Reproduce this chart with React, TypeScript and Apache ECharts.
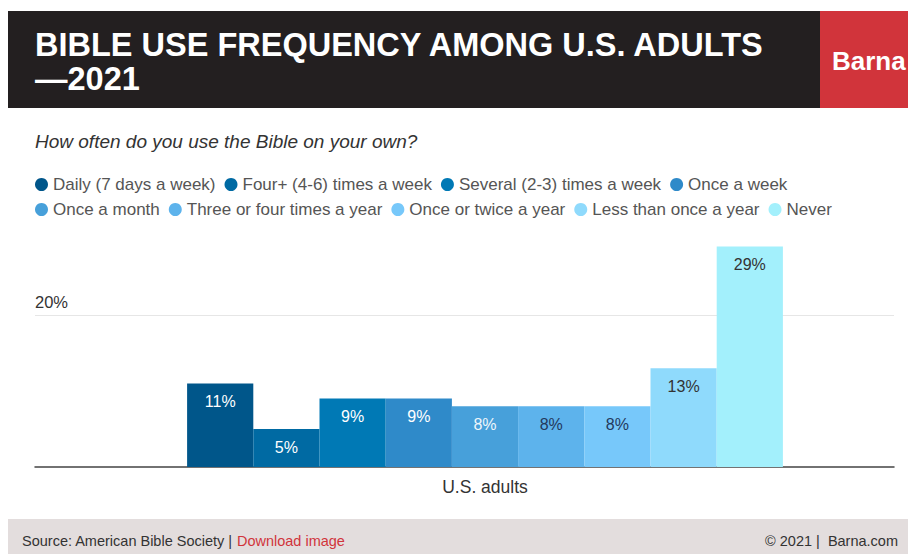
import React, { useEffect, useRef } from "react";
import * as echarts from "echarts";

const TITLE_LINE1 = "BIBLE USE FREQUENCY AMONG U.S. ADULTS";
const TITLE_LINE2 = "—2021";
const BRAND = "Barna";
const SUBTITLE = "How often do you use the Bible on your own?";
const SOURCE = "Source: American Bible Society | ";
const DOWNLOAD = "Download image";
const COPYRIGHT = "© 2021 |  Barna.com";

const categories = ["U.S. adults"];
const seriesNames = [
  "Daily (7 days a week)",
  "Four+ (4-6) times a week",
  "Several (2-3) times a week",
  "Once a week",
  "Once a month",
  "Three or four times a year",
  "Once or twice a year",
  "Less than once a year",
  "Never",
];
const seriesValues = [11, 5, 9, 9, 8, 8, 8, 13, 29];
const seriesColors = [
  "#00568a",
  "#006aa3",
  "#0079b5",
  "#2f8ac9",
  "#47a0da",
  "#5db3ec",
  "#77c8fa",
  "#8fdafc",
  "#a3f0fc",
];
const labelColors = ["#ffffff", "#ffffff", "#ffffff", "#ffffff", "#eef6fb", "#23395d", "#23395d", "#333333", "#333333"];
const yTicks = [0, 10, 20, 30];
const shownTick = 20;

const FONT = "'Liberation Sans', Arial, Helvetica, sans-serif";

export default function App() {
  const ref = useRef<HTMLDivElement>(null);
  useEffect(() => {
    document.body.style.margin = "0";
    document.body.style.overflow = "hidden";
    const chart = echarts.init(ref.current!, null, { renderer: "svg" });
    const yMin = yTicks[0];
    const yMax = yTicks[yTicks.length - 1];
    const interval = yTicks[1] - yTicks[0];
    const legendBase = {
      left: 35,
      padding: 0,
      itemGap: 9,
      itemWidth: 13,
      itemHeight: 13,
      icon: "circle",
      selectedMode: false,
      textStyle: { fontSize: 17, color: "#555555", fontFamily: FONT },
    };
    const option: any = {
      animation: false,
      backgroundColor: "#ffffff",
      textStyle: { fontFamily: FONT },
      legend: [
        { ...legendBase, data: seriesNames.slice(0, 4), top: 176 },
        { ...legendBase, data: seriesNames.slice(4), top: 201 },
      ],
      grid: [
        { left: 35, right: 14, top: 239, bottom: 87 },
        { left: 76, right: 14, top: 239, bottom: 87 },
      ],
      xAxis: [
        {
          type: "category",
          gridIndex: 0,
          data: [""],
          axisLine: { show: true, lineStyle: { color: "#444444", width: 1.5 } },
          axisTick: { show: false },
          axisLabel: { show: false },
        },
        {
          type: "category",
          gridIndex: 1,
          data: categories,
          axisLine: { show: false },
          axisTick: { show: false },
          axisLabel: { fontSize: 17.5, color: "#333333", margin: 11, fontFamily: FONT },
        },
      ],
      yAxis: [
        {
          type: "value",
          gridIndex: 0,
          min: yMin,
          max: yMax,
          interval,
          axisLine: { show: false },
          axisTick: { show: false },
          splitLine: {
            show: true,
            lineStyle: {
              color: yTicks.map((t) => (t === shownTick ? "#e6e6e6" : "rgba(0,0,0,0)")),
              width: 1,
            },
          },
          axisLabel: {
            inside: true,
            margin: 0,
            verticalAlign: "bottom",
            padding: [0, 0, 5, 0],
            fontSize: 16.5,
            color: "#333333",
            fontFamily: FONT,
            formatter: (v: number) => (v === shownTick ? v + "%" : ""),
          },
        },
        {
          type: "value",
          gridIndex: 1,
          min: yMin,
          max: yMax,
          interval,
          show: false,
          splitLine: { show: false },
        },
      ],
      series: seriesNames.map((name, i) => ({
        name,
        type: "bar",
        xAxisIndex: 1,
        yAxisIndex: 1,
        data: [seriesValues[i]],
        barWidth: 66.2,
        barGap: "0%",
        itemStyle: { color: seriesColors[i] },
        label: {
          show: true,
          position: "insideTop",
          distance: 10,
          formatter: "{c}%",
          fontSize: 16,
          color: labelColors[i],
          fontFamily: FONT,
        },
      })),
      graphic: [
        { type: "rect", shape: { x: 8, y: 11, width: 812, height: 97 }, style: { fill: "#231f20" }, silent: true },
        { type: "rect", shape: { x: 820, y: 11, width: 88, height: 97 }, style: { fill: "#d1343b" }, silent: true },
        {
          type: "text",
          style: { x: 35, y: 45, text: TITLE_LINE1, font: `bold 32.5px ${FONT}`, fill: "#ffffff", textVerticalAlign: "middle" },
          silent: true,
        },
        {
          type: "text",
          style: { x: 35, y: 79, text: TITLE_LINE2, font: `bold 32.5px ${FONT}`, fill: "#ffffff", textVerticalAlign: "middle" },
          silent: true,
        },
        {
          type: "text",
          style: { x: 832, y: 61, text: BRAND, font: `bold 26px ${FONT}`, fill: "#ffffff", textVerticalAlign: "middle" },
          silent: true,
        },
        {
          type: "text",
          style: { x: 35, y: 141, text: SUBTITLE, font: `italic 19px ${FONT}`, fill: "#333333", textVerticalAlign: "middle" },
          silent: true,
        },
        { type: "rect", shape: { x: 8, y: 519, width: 900, height: 35 }, style: { fill: "#e3dddd" }, silent: true },
        {
          type: "text",
          style: {
            x: 22,
            y: 541,
            text: `{a|${SOURCE}}{b|${DOWNLOAD}}`,
            rich: {
              a: { fontSize: 14.5, fill: "#333333", fontFamily: FONT },
              b: { fontSize: 14.5, fill: "#d1343b", fontFamily: FONT },
            },
            font: `14.5px ${FONT}`,
            textVerticalAlign: "middle",
          },
          silent: true,
        },
        {
          type: "text",
          style: {
            x: 898,
            y: 541,
            text: COPYRIGHT,
            font: `14.5px ${FONT}`,
            fill: "#333333",
            textAlign: "right",
            textVerticalAlign: "middle",
          },
          silent: true,
        },
      ],
    };
    chart.setOption(option);
    return () => chart.dispose();
  }, []);
  return (
    <div
      ref={ref}
      style={{ position: "absolute", left: 0, top: 0, width: 908, height: 554 }}
    />
  );
}
